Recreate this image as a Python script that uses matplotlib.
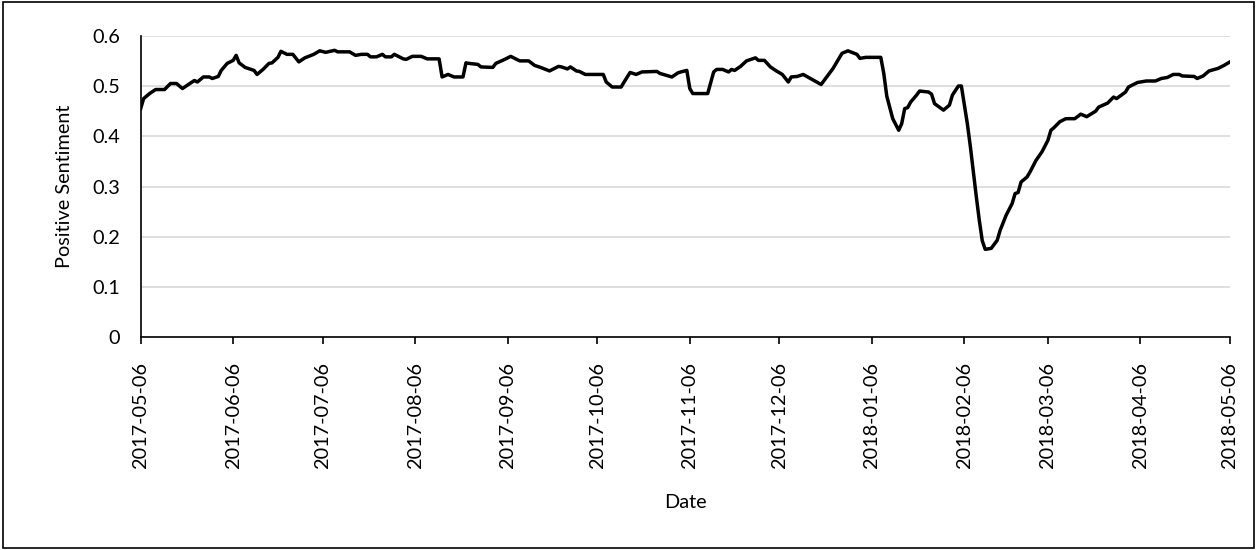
import matplotlib
matplotlib.use("Agg")
import matplotlib.pyplot as plt
from matplotlib.patches import Rectangle
import pandas as pd

plt.rcParams['font.family'] = ['Lato', 'DejaVu Sans']

start_date = "2017-05-06"
day_offset = [0, 1, 3, 5, 8, 10, 12, 14, 16, 18, 19, 21, 23, 24, 26, 27, 29, 31, 32, 33,
              35, 38, 39, 41, 43, 44, 46, 47, 49, 51, 53, 55, 58, 60, 62, 65, 66, 70, 72, 74,
              76, 77, 79, 81, 82, 84, 85, 88, 89, 91, 94, 96, 100, 101, 103, 105, 108, 109, 110, 113,
              114, 118, 119, 122, 124, 127, 130, 132, 134, 137, 140, 141, 143, 144, 146, 147, 149, 155, 156, 158,
              161, 162, 164, 166, 168, 173, 174, 178, 180, 181, 183, 184, 185, 190, 192, 193, 195, 197, 198, 199,
              201, 203, 206, 207, 209, 211, 213, 215, 217, 218, 220, 222, 225, 228, 230, 232, 235, 237, 240, 241,
              243, 248, 249, 250, 252, 254, 255, 256, 257, 258, 260, 261, 264, 265, 266, 269, 271, 272, 274, 275,
              277, 278, 279, 280, 281, 282, 283, 285, 287, 288, 290, 292, 293, 294, 295, 297, 298, 300, 302, 304,
              305, 306, 308, 310, 313, 315, 317, 320, 321, 324, 326, 327, 330, 331, 334, 337, 340, 342, 344, 346,
              348, 349, 353, 354, 356, 358, 361, 363, 365]
positive_sentiment = [0.455, 0.475, 0.485, 0.493, 0.493, 0.505, 0.505, 0.495, 0.503, 0.511, 0.508, 0.518, 0.518, 0.515, 0.519, 0.531, 0.545, 0.551, 0.561, 0.546,
                      0.537, 0.531, 0.523, 0.533, 0.545, 0.546, 0.557, 0.569, 0.563, 0.563, 0.548, 0.556, 0.563, 0.570, 0.567, 0.571, 0.568, 0.568, 0.561, 0.563,
                      0.563, 0.558, 0.558, 0.563, 0.558, 0.558, 0.563, 0.554, 0.553, 0.559, 0.559, 0.554, 0.554, 0.518, 0.523, 0.518, 0.518, 0.546, 0.545, 0.543,
                      0.538, 0.537, 0.545, 0.553, 0.559, 0.550, 0.550, 0.541, 0.537, 0.530, 0.539, 0.538, 0.534, 0.538, 0.530, 0.529, 0.523, 0.523, 0.508, 0.498,
                      0.498, 0.508, 0.527, 0.523, 0.528, 0.529, 0.525, 0.518, 0.526, 0.528, 0.531, 0.495, 0.485, 0.485, 0.528, 0.533, 0.533, 0.528, 0.533, 0.531,
                      0.539, 0.550, 0.556, 0.551, 0.551, 0.538, 0.530, 0.523, 0.508, 0.518, 0.519, 0.523, 0.513, 0.503, 0.519, 0.535, 0.565, 0.570, 0.563, 0.555,
                      0.557, 0.557, 0.525, 0.480, 0.435, 0.412, 0.425, 0.455, 0.457, 0.468, 0.482, 0.490, 0.488, 0.484, 0.465, 0.452, 0.462, 0.482, 0.500, 0.500,
                      0.425, 0.380, 0.330, 0.280, 0.233, 0.192, 0.175, 0.177, 0.193, 0.213, 0.243, 0.266, 0.286, 0.288, 0.309, 0.319, 0.329, 0.352, 0.369, 0.392,
                      0.412, 0.417, 0.429, 0.435, 0.435, 0.444, 0.439, 0.450, 0.458, 0.466, 0.478, 0.475, 0.488, 0.498, 0.507, 0.510, 0.510, 0.515, 0.517, 0.523,
                      0.523, 0.520, 0.519, 0.515, 0.520, 0.530, 0.535, 0.541, 0.548]
tick_dates = ["2017-05-06", "2017-06-06", "2017-07-06", "2017-08-06", "2017-09-06", "2017-10-06",
              "2017-11-06", "2017-12-06", "2018-01-06", "2018-02-06", "2018-03-06", "2018-04-06", "2018-05-06"]
y_ticks = [0, 0.1, 0.2, 0.3, 0.4, 0.5, 0.6]
y_tick_labels = ["0", "0.1", "0.2", "0.3", "0.4", "0.5", "0.6"]

dates = pd.to_datetime(start_date) + pd.to_timedelta(day_offset, unit="D")
ticks = pd.to_datetime(tick_dates)

fig = plt.figure(figsize=(12.57, 5.5), dpi=100)
ax = fig.add_axes([0.1119, 0.3867, 0.8666, 0.5483])

ax.plot(dates, positive_sentiment, color="black", linewidth=2.5, solid_joinstyle="round")

ax.set_xlim(ticks[0], ticks[-1])
ax.set_ylim(0, 0.6)
ax.set_yticks(y_ticks)
ax.set_yticklabels(y_tick_labels)
ax.set_xticks(ticks)
ax.set_xticklabels(tick_dates, rotation=90)
ax.xaxis.set_minor_locator(plt.NullLocator())

ax.grid(axis="y", color="#d9d9d9", linewidth=1.2)
ax.set_axisbelow(True)
for s in ["top", "right"]:
    ax.spines[s].set_visible(False)
ax.spines["left"].set_color("black")
ax.spines["bottom"].set_color("black")
ax.spines["left"].set_linewidth(1.2)
ax.spines["bottom"].set_linewidth(1.2)

ax.tick_params(axis="y", length=0, pad=15, labelsize=14.3, colors="black")
ax.tick_params(axis="x", length=5, width=1.2, direction="out", pad=13, labelsize=14.3, colors="black")

ax.set_ylabel("Positive Sentiment", fontsize=14.3, labelpad=14)
ax.set_xlabel("Date", fontsize=14.3, labelpad=18)

fig.add_artist(Rectangle((0.002, 0.003), 0.996, 0.994, transform=fig.transFigure,
                         fill=False, edgecolor="black", linewidth=1.2))

fig.savefig("out.png", dpi=100)
